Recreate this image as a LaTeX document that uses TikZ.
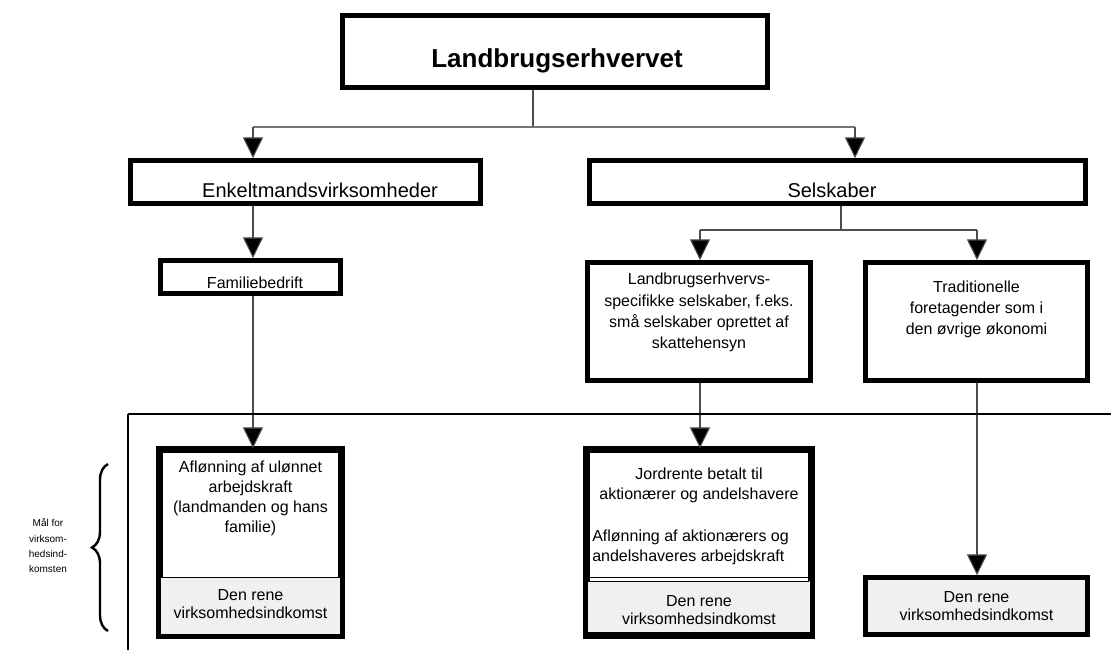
\documentclass[tikz,border=0pt]{standalone}
\usepackage{fontspec}
\setmainfont{Liberation Sans}
\usetikzlibrary{arrows.meta, decorations.pathreplacing, backgrounds}

\begin{document}
\begin{tikzpicture}[x=0.75pt, y=-0.75pt,
    frame/.style={draw=black, line width=3.6pt, inner sep=0pt, fill=white},
    body/.style={font=\fontsize{12}{15.5}\selectfont, align=center, inner sep=0pt},
    shadetext/.style={font=\fontsize{12}{13.5}\selectfont, align=center, inner sep=0pt},
    link/.style={draw=black!70, line width=0.8pt},
    arrowlink/.style={link, -{Triangle[length=15.5pt, width=15pt, fill=black]}},
    divider/.style={line width=1.5pt},
    shade/.style={fill=black!6}]
    \useasboundingbox (0,0) rectangle (1111,650);

    % Top level
    \node[frame, minimum width=318.75pt, minimum height=54pt] (top) at (555,51.5) {};
    \node[font=\fontsize{19.5}{22}\selectfont\bfseries, inner sep=0pt] (toptxt) at (557,61) {Landbrugserhvervet};

    % Second level
    \node[frame, minimum width=262.5pt, minimum height=32.25pt] (enkelt) at (305.5,182) {};
    \node[font=\fontsize{15}{18}\selectfont, inner sep=0pt] (enkelttxt) at (320,190) {Enkeltmandsvirksomheder};
    \node[frame, minimum width=372pt, minimum height=32.25pt] (selsk) at (837.5,182) {};
    \node[font=\fontsize{15}{18}\selectfont, inner sep=0pt] (selsktxt) at (832,190) {Selskaber};

    % Third level
    \node[frame, minimum width=135pt, minimum height=24.75pt] (famil) at (250.5,277) {};
    \node[body] (familtxt) at (255,283) {Familiebedrift};
    \node[frame, minimum width=167.25pt, minimum height=88.5pt] (landb) at (699,321.5) {};
    \node[body, font=\fontsize{12}{16}\selectfont, anchor=north] (landbtxt) at (699,273) {Landbrugserhvervs-\\specifikke selskaber, f.eks.\\små selskaber oprettet af\\skattehensyn};
    \node[frame, minimum width=166.5pt, minimum height=88.5pt] (tradit) at (976.5,321.5) {};
    \node[body, anchor=north] (tradittxt) at (976.5,281) {Traditionelle\\foretagender som i\\den øvrige økonomi};

    % Income boxes
    \node[frame, minimum width=135pt, minimum height=138pt] (aflon) at (250.5,542.5) {};
    \node[frame, minimum width=167.25pt, minimum height=138pt] (jord) at (699,542.5) {};
    \node[frame, fill=black!6, minimum width=166.5pt, minimum height=42.75pt] (rene3) at (976.5,606) {};

    % Shaded parts of the income boxes
    \fill[shade] (aflon.west |- 0,577) rectangle ([xshift=-2pt,yshift=2pt]aflon.south east);
    \draw[line width=0.6pt] (aflon.west |- 0,577) -- (aflon.east |- 0,577);
    \fill[shade] (jord.west |- 0,581) rectangle ([xshift=-2pt]jord.east |- 0,632);
    \draw[line width=0.6pt] (jord.west |- 0,577) -- ([xshift=-3pt]jord.east |- 0,577);
    \draw[line width=0.6pt] (jord.west |- 0,581) -- ([xshift=-3pt]jord.east |- 0,581);
    \draw[line width=0.6pt] (jord.west |- 0,632) -- ([xshift=-3pt]jord.east |- 0,632);
    \draw[line width=3.6pt] (aflon.north west) rectangle (aflon.south east);
    \draw[line width=3.6pt] (jord.north west) rectangle (jord.south east);

    \node[body, font=\fontsize{12}{15}\selectfont, anchor=north] (aflontxt) at (250.5,461) {Aflønning af ulønnet\\arbejdskraft\\(landmanden og hans\\familie)};
    \node[shadetext] (aflonrene) at (250.5,604) {Den rene\\virksomhedsindkomst};
    \node[body, font=\fontsize{12}{15}\selectfont, anchor=north] (jordtxt) at (699,468) {Jordrente betalt til\\aktionærer og andelshavere};
    \node[body, font=\fontsize{12}{15}\selectfont, anchor=north west, align=left] (jordlon) at (592,530) {Aflønning af aktionærers og\\andelshaveres arbejdskraft};
    \node[shadetext] (jordrene) at (699,610) {Den rene\\virksomhedsindkomst};
    \node[shadetext] (rene3txt) at (976.5,606) {Den rene\\virksomhedsindkomst};

    % Connectors
    \coordinate (topfork) at (533,127);
    \coordinate (forkL) at (253,127);
    \coordinate (forkR) at (855,127);
    \draw[link] (topfork |- top.south) -- (topfork);
    \draw[link, draw=black!55, line width=1.2pt] (forkL) -- (forkR);
    \draw[arrowlink] (forkL) -- (forkL |- enkelt.north);
    \draw[arrowlink] (forkR) -- (forkR |- selsk.north);
    \draw[arrowlink] (forkL |- enkelt.south) -- (forkL |- famil.north);
    \draw[arrowlink] (forkL |- famil.south) -- (forkL |- aflon.north);

    \coordinate (selskfork) at (841,230);
    \coordinate (forkSL) at (700,230);
    \coordinate (forkSR) at (977,230);
    \draw[link] (selskfork |- selsk.south) -- (selskfork);
    \draw[link] (forkSL) -- (forkSR);
    \draw[arrowlink] (forkSL) -- (forkSL |- landb.north);
    \draw[arrowlink] (forkSR) -- (forkSR |- tradit.north);
    \draw[arrowlink] (forkSL |- landb.south) -- (forkSL |- jord.north);
    \draw[arrowlink] (forkSR |- tradit.south) -- (forkSR |- rene3.north);

    % Dividers
    \draw[divider] (128,414) -- (1111,414);
    \draw[divider] (128,414) -- (128,650);

    % Brace with label
    \draw[line width=1.8pt, decorate, decoration={brace, amplitude=12pt}] (108,631) -- (108,464);
    \node[font=\fontsize{7.5}{11.5}\selectfont, align=center, inner sep=0pt] (maal) at (48,546) {Mål for\\virksom-\\hedsind-\\komsten};
\end{tikzpicture}
\end{document}
